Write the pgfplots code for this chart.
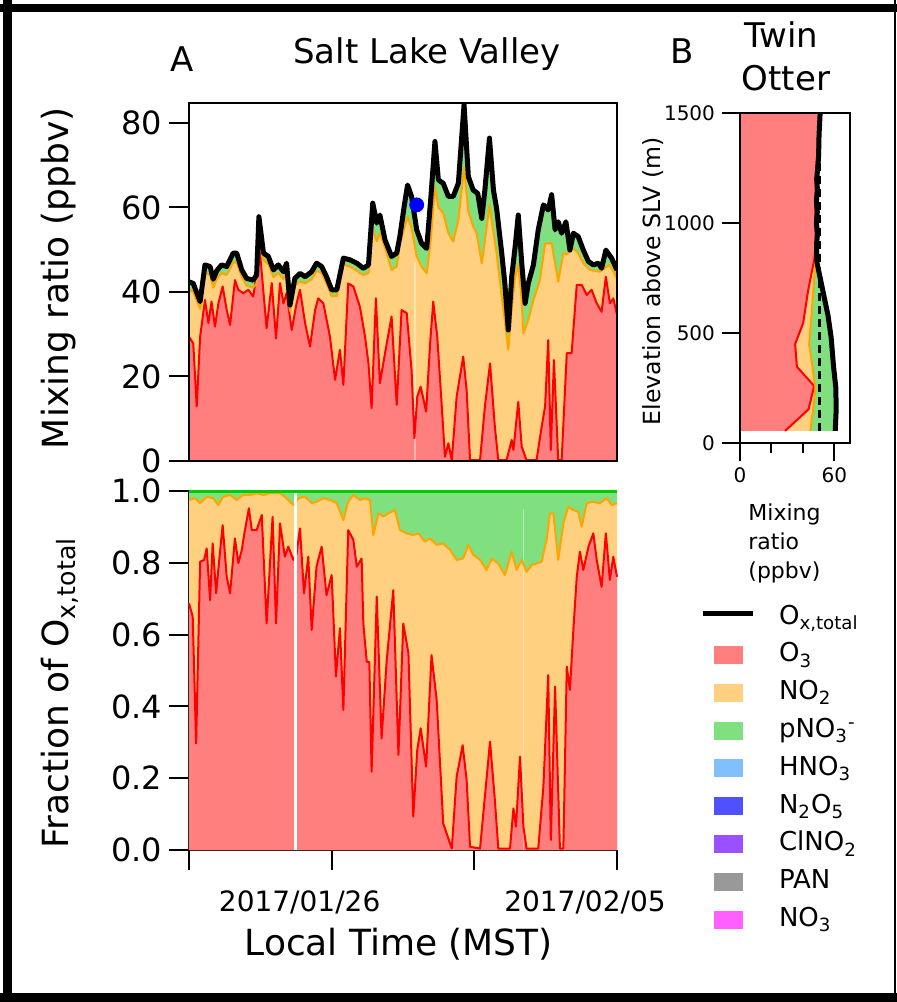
\documentclass[border=0pt]{standalone}
\usepackage{pgfplots}
\usepackage{pgfplotstable}
\pgfplotsset{compat=1.18}
\usepackage{fontspec}
\setmainfont{DejaVu Sans}
\definecolor{o3fill}{HTML}{FF7F7F}
\definecolor{o3line}{HTML}{FF0000}
\definecolor{no2fill}{HTML}{FFD080}
\definecolor{no2line}{HTML}{FFA500}
\definecolor{pno3fill}{HTML}{80E080}
\definecolor{pno3line}{HTML}{00CC00}
\definecolor{hno3}{HTML}{80C0FF}
\definecolor{n2o5}{HTML}{5050FF}
\definecolor{clno2}{HTML}{9A50FF}
\definecolor{pan}{HTML}{999999}
\definecolor{no3}{HTML}{FF60FF}
\newcommand\fs[1]{\fontsize{#1}{#1}\selectfont}
\newcommand\patch[1]{\addlegendimage{legend image code/.code={\fill[#1] (6pt,-4.25pt) rectangle (20pt,4.25pt);\path[draw=none] (0pt,0pt) -- (25pt,0pt);}}}

% ---------- Panel A top: mixing ratios (days since start, ppbv)
\pgfplotstableread{
d v
0 42.4
0.15 42
0.39 37.7
0.56 46.4
0.74 46
0.85 43
0.97 45
1.14 46.4
1.32 46
1.55 49.2
1.67 49.2
1.85 45.2
2.02 43.2
2.25 42.8
2.37 44
2.45 57.8
2.61 49.2
2.78 48.4
2.96 45.2
3.13 46.4
3.31 44.8
3.42 46.8
3.54 36.9
3.71 43.2
3.89 44.4
4.07 43.6
4.30 44.8
4.47 46.8
4.65 46
4.82 43.6
5.00 40.5
5.18 40.5
5.41 48
5.64 47.6
5.88 46.8
6.11 45.6
6.29 46.4
6.44 61
6.58 56.3
6.69 58.2
6.87 52.3
7.10 48.4
7.28 49.2
7.39 53.1
7.54 60.2
7.66 65.3
7.80 62.6
7.98 54.7
8.15 51.5
8.33 50.3
8.47 61.8
8.62 75.6
8.74 66.5
8.91 65.7
9.09 62.6
9.26 62.6
9.44 65.7
9.64 84.3
9.79 67.3
9.96 64.1
10.12 63.3
10.26 57.4
10.37 64.1
10.53 76.4
10.67 64.1
10.78 59.8
10.96 49.2
11.07 42
11.19 31
11.31 43.6
11.43 50.7
11.54 58.2
11.66 47
11.78 37.3
11.89 42
12.07 46.4
12.24 54.7
12.42 60.6
12.59 59.4
12.71 63
12.83 54.7
12.94 56.6
13.06 53.9
13.21 56.6
13.35 49.9
13.47 53.9
13.64 53.1
13.82 49.9
14.00 47.2
14.17 46.4
14.35 46.8
14.46 45.6
14.61 49.9
14.81 48
15.00 45.2
}\Atot

\pgfplotstableread{
d v
0 40.5
0.15 40
0.39 36
0.56 44.5
0.74 44
0.85 41
0.97 43
1.14 44.5
1.32 44
1.55 47
1.67 47
1.85 43.5
2.02 41.5
2.25 41
2.37 42
2.45 56
2.61 47.5
2.78 46.5
2.96 43.5
3.13 44.5
3.31 43
3.42 45
3.54 35.5
3.71 41.5
3.89 42.5
4.07 42
4.30 43
4.47 45
4.65 44.5
4.82 42
5.00 39
5.18 39
5.41 46.5
5.64 46
5.88 45
6.11 44
6.29 44.5
6.44 54.7
6.58 52
6.69 53.9
6.87 50.5
7.10 45.2
7.28 46
7.39 51.5
7.54 55
7.66 57.8
7.80 55
7.98 48.4
8.15 46
8.33 44.4
8.47 52
8.62 64.9
8.74 60
8.91 58.6
9.09 53.9
9.26 51.9
9.44 57
9.64 69.3
9.79 59
9.96 55.5
10.08 53.9
10.26 46.8
10.37 52
10.53 60.6
10.67 54
10.78 49.2
10.96 38.9
11.07 33
11.19 26.3
11.31 36
11.43 43.6
11.54 46.4
11.66 38
11.72 30.2
11.89 33.4
12.07 38.1
12.30 42.8
12.48 51.5
12.71 51.5
12.94 42.4
13.12 49.2
13.24 48.8
13.41 50.7
13.64 49.2
13.82 46.8
14.05 45.2
14.40 44.8
14.75 46.4
15.00 43.2
}\Ano

\pgfplotstableread{
d v
0 29.4
0.15 27.8
0.27 12.9
0.39 29.4
0.56 38.1
0.68 32.6
0.79 37.7
0.91 31.8
1.03 37.3
1.18 41.3
1.32 35.8
1.44 32.2
1.61 42.8
1.73 40.5
1.90 39.7
2.08 40.5
2.25 38.9
2.49 49.2
2.72 31.4
2.90 42.1
3.05 29
3.19 42.1
3.31 37.3
3.42 39.7
3.60 31
3.77 37.3
3.89 40.5
4.07 32.6
4.24 27.1
4.42 35.7
4.53 38.5
4.71 37.3
4.94 29.4
5.12 19.2
5.29 26.3
5.41 18
5.58 42
5.76 41.3
5.99 36.5
6.17 29.4
6.29 23.1
6.40 12.5
6.55 38.5
6.69 18.4
6.87 25.5
7.10 34.2
7.28 13.3
7.45 35.7
7.63 35
7.80 21.5
7.90 5.4
8.00 15.2
8.12 17.6
8.31 11.7
8.45 27.8
8.56 37.7
8.70 29.4
8.86 12.9
8.97 1
9.09 4.2
9.21 0.2
9.38 15.2
9.61 24.7
9.73 16.8
9.85 0.2
10.20 0.2
10.37 12.9
10.55 23.1
10.72 8.1
10.84 0.2
11.13 0.2
11.31 5
11.37 2.6
11.54 14
11.66 3.4
11.83 0.2
12.18 0.2
12.36 8.1
12.48 12.9
12.59 28.6
12.68 2.6
12.79 23.9
12.94 0.2
13.06 0.2
13.24 25.5
13.41 25.5
13.59 41.7
13.76 41.7
13.94 39.3
14.11 40.5
14.29 37.3
14.46 35.3
14.61 43.6
14.75 37.3
14.87 38.5
15.00 34.6
}\Aox

% ---------- Panel A bottom: fractions of Ox,total
\pgfplotstableread{
d f
0 0.975
0.21 0.98
0.39 0.966
0.62 0.984
0.85 0.98
1.03 0.961
1.20 0.984
1.44 0.989
1.67 0.975
1.90 0.989
2.14 0.989
2.37 0.994
2.61 0.989
2.84 0.994
3.07 0.994
3.19 0.994
3.42 0.98
3.66 0.961
3.83 0.98
4.07 0.984
4.30 0.966
4.47 0.97
4.71 0.98
4.94 0.975
5.18 0.966
5.41 0.919
5.58 0.97
5.76 0.989
5.99 0.975
6.17 0.98
6.34 0.975
6.46 0.877
6.64 0.938
6.81 0.929
6.99 0.938
7.22 0.947
7.39 0.891
7.63 0.882
7.86 0.877
8.04 0.882
8.27 0.859
8.45 0.868
8.68 0.85
8.91 0.854
9.15 0.836
9.38 0.808
9.61 0.812
9.79 0.85
9.96 0.822
10.20 0.808
10.43 0.78
10.61 0.812
10.84 0.798
11.07 0.766
11.31 0.831
11.48 0.78
11.66 0.808
11.83 0.775
12.01 0.794
12.18 0.798
12.36 0.803
12.54 0.868
12.65 0.938
12.77 0.938
12.94 0.808
13.12 0.91
13.29 0.956
13.47 0.947
13.64 0.942
13.76 0.9
13.94 0.966
14.17 0.97
14.40 0.966
14.64 0.98
14.81 0.961
15.00 0.966
}\BfrN

\pgfplotstableread{
d f
0 0.687
0.13 0.65
0.25 0.297
0.39 0.803
0.53 0.808
0.62 0.84
0.74 0.696
0.83 0.854
0.95 0.715
1.06 0.808
1.18 0.905
1.32 0.762
1.44 0.715
1.61 0.868
1.73 0.799
1.85 0.836
1.96 0.891
2.10 0.952
2.20 0.891
2.37 0.891
2.55 0.933
2.72 0.631
2.93 0.928
3.05 0.631
3.19 0.91
3.36 0.817
3.48 0.845
3.66 0.808
3.77 0.826
3.89 0.896
4.03 0.715
4.18 0.817
4.30 0.613
4.47 0.79
4.65 0.845
4.82 0.71
5.00 0.766
5.15 0.483
5.29 0.618
5.41 0.39
5.58 0.891
5.76 0.864
5.88 0.789
6.05 0.812
6.11 0.631
6.23 0.524
6.32 0.524
6.40 0.218
6.58 0.706
6.75 0.311
6.93 0.529
7.16 0.724
7.34 0.265
7.51 0.631
7.69 0.548
7.86 0.093
8.00 0.279
8.12 0.339
8.31 0.232
8.50 0.543
8.68 0.418
8.91 0.074
9.03 0.046
9.21 0.004
9.38 0.204
9.59 0.292
9.73 0.195
9.85 0.009
10.20 0.004
10.55 0.302
10.72 0.139
10.84 0.004
11.25 0.004
11.37 0.116
11.46 0.065
11.60 0.26
11.72 0.065
11.83 0.004
12.24 0.004
12.42 0.176
12.59 0.487
12.68 0.028
12.83 0.455
13.00 0.004
13.12 0.004
13.24 0.511
13.35 0.446
13.47 0.613
13.59 0.761
13.70 0.831
13.82 0.78
14.00 0.845
14.17 0.882
14.29 0.808
14.46 0.733
14.61 0.882
14.75 0.752
14.87 0.817
15.00 0.761
}\BfrO

\begin{document}
\begin{tikzpicture}
\useasboundingbox (0,0) rectangle (448.5pt,-501pt);

% ================= Panel A, top
\begin{axis}[
  at={(94.5pt,-230.5pt)}, anchor=south west,
  scale only axis, width=214pt, height=179pt,
  xmin=0, xmax=15, ymin=0, ymax=84.7,
  xtick=\empty, ytick={0,20,40,60,80},
  ytick pos=left, tick align=outside,
  major tick length=10pt,
  axis line style={line width=1pt},
  every tick/.style={black, line width=1pt},
  /pgf/number format/assume math mode=true,
  yticklabel style={font=\fs{16}},
  ylabel={Mixing ratio (ppbv)},
  every axis y label/.style={at={(axis description cs:-0.2827,0.511)}, rotate=90, anchor=base, font=\fs{18}},
  axis on top,
]
\addplot[fill=pno3fill, draw=none] table[x=d,y=v] {\Atot} \closedcycle;
\addplot[fill=no2fill, draw=none] table[x=d,y=v] {\Ano} \closedcycle;
\addplot[fill=o3fill, draw=none] table[x=d,y=v] {\Aox} \closedcycle;
\addplot[white, opacity=0.4, line width=0.6pt] coordinates {(7.92,0) (7.92,47)};
\addplot[o3line, line width=1pt, line join=round] table[x=d,y=v] {\Aox};
\addplot[no2line, line width=1pt, line join=round] table[x=d,y=v] {\Ano};
\addplot[black, line width=2.5pt, line join=round] table[x=d,y=v] {\Atot};
\addplot[only marks, mark=*, mark size=3.5pt, color=blue] coordinates {(7.98,60.6)};
\end{axis}

% ================= Panel A, bottom
\begin{axis}[
  at={(94.5pt,-425pt)}, anchor=south west,
  scale only axis, width=214pt, height=179.5pt,
  xmin=0, xmax=15, ymin=0, ymax=1,
  axis lines=left,
  axis line style={-, line width=1pt},
  every tick/.style={black, line width=1pt},
  tick align=outside,
  major tick length=10pt,
  xtick={0,5,10,15}, xticklabels={,2017/01/26,,2017/02/05},
  ytick={0,0.2,0.4,0.6,0.8,1.0},
  /pgf/number format/assume math mode=true,
  yticklabel style={font=\fs{16}, /pgf/number format/fixed, /pgf/number format/fixed zerofill, /pgf/number format/precision=1},
  xticklabel style={font=\fs{14}, xshift=-16pt, yshift=-7pt},
  xlabel={Local Time (MST)},
  every axis x label/.style={at={(axis description cs:0.49,0)}, yshift=-52.5pt, anchor=base, font=\fs{18}},
  ylabel={Fraction of O\textsubscript{x,total}},
  every axis y label/.style={at={(axis description cs:-0.2827,0.437)}, rotate=90, anchor=base, font=\fs{18}},
  clip=false,
  legend style={at={(axis description cs:1.194,0.685)}, anchor=north west, draw=none, fill=none,
    inner sep=0pt, outer sep=0pt, font=\fs{13}, row sep=5.9pt, column sep=12pt,
    nodes={inner sep=0pt, text height=10pt, text depth=3pt}},
  legend cell align=left,
]
\addplot[fill=pno3fill, draw=none, forget plot] coordinates {(0,1) (15,1)} \closedcycle;
\addplot[fill=no2fill, draw=none, forget plot] table[x=d,y=f] {\BfrN} \closedcycle;
\addplot[fill=o3fill, draw=none, forget plot] table[x=d,y=f] {\BfrO} \closedcycle;
\addplot[white, opacity=0.4, line width=0.6pt, forget plot] coordinates {(11.72,0) (11.72,0.95)};
\addplot[o3line, line width=1pt, line join=round, forget plot] table[x=d,y=f] {\BfrO};
\addplot[no2line, line width=1pt, line join=round, forget plot] table[x=d,y=f] {\BfrN};
\addplot[white, line width=1.5pt, forget plot] coordinates {(3.715,0) (3.715,1)};
\addplot[pno3line, line width=1.5pt, forget plot] coordinates {(0,1) (15,1)};
\addlegendimage{legend image code/.code={\draw[black,line width=2.5pt] (0pt,2pt) -- (25pt,2pt);}}
\addlegendentry{O\textsubscript{x,total}}
\patch{o3fill}\addlegendentry{O\textsubscript{3}}
\patch{no2fill}\addlegendentry{NO\textsubscript{2}}
\patch{pno3fill}\addlegendentry{pNO\textsubscript{3}\textsuperscript{-}}
\patch{hno3}\addlegendentry{HNO\textsubscript{3}}
\patch{n2o5}\addlegendentry{N\textsubscript{2}O\textsubscript{5}}
\patch{clno2}\addlegendentry{ClNO\textsubscript{2}}
\patch{pan}\addlegendentry{PAN}
\patch{no3}\addlegendentry{NO\textsubscript{3}}
\end{axis}

% ================= Panel B: Twin Otter profile
\begin{axis}[
  at={(370pt,-221.5pt)}, anchor=south west,
  scale only axis, width=55pt, height=165pt,
  xmin=0, xmax=70, ymin=0, ymax=1500,
  xtick={0,60}, minor xtick={20,40}, ytick={0,500,1000,1500},
  tick pos=left, tick align=outside,
  major tick length=9pt, minor tick length=5pt,
  axis line style={line width=1pt},
  every tick/.style={black, line width=1pt},
  /pgf/number format/assume math mode=true,
  /pgf/number format/1000 sep={},
  tick label style={font=\fs{10}},
  ylabel={Elevation above SLV (m)},
  every axis y label/.style={at={(axis description cs:-0.727,0.49)}, rotate=90, anchor=base, font=\fs{11.8}},
  xlabel={Mixing\\ratio\\(ppbv)},
  every axis x label/.style={at={(axis description cs:0.073,-0.182)}, anchor=north west, align=left, inner sep=0pt, font=\fontsize{11}{14.5}\selectfont},
  axis on top,
]
\addplot[fill=pno3fill, draw=none] coordinates {(0,55) (60.6,55) (61.2,150) (61,250) (59.5,350) (58,480) (56,580) (52.5,700) (49,820) (48.7,900) (49.3,950) (48.6,1000) (49.2,1050) (48.6,1100) (49.3,1150) (48.8,1200) (49.6,1260) (50,1300) (50.3,1400) (51,1500) (0,1500)} -- cycle;
\addplot[fill=no2fill, draw=none] coordinates {(0,55) (44.7,55) (46.5,150) (48,250) (46,350) (44,450) (45.7,600) (47.5,780) (48.2,840) (48.2,900) (48,1000) (48,1100) (48.2,1200) (48.5,1250) (49,1300) (49.8,1400) (50.5,1500) (0,1500)} -- cycle;
\addplot[fill=o3fill, draw=none] coordinates {(0,55) (28.7,55) (43.6,153) (47.2,259) (36.2,347) (35.1,450) (40.2,545) (43.4,695) (47.2,832) (48.2,900) (48,1000) (48,1100) (48.2,1200) (48.5,1250) (49,1300) (49.8,1400) (50.5,1500) (0,1500)} -- cycle;
\addplot[o3line, line width=1pt] coordinates {(28.7,55) (43.6,153) (47.2,259) (36.2,347) (35.1,450) (40.2,545) (43.4,695) (47.2,832) (48.2,900) (48,1000) (48,1100) (48.2,1200) (48.5,1250) (49,1300) (49.8,1400) (50.5,1500)};
\addplot[no2line, line width=1pt] coordinates {(44.7,55) (46.5,150) (48,250) (46,350) (44,450) (45.7,600) (47.5,780) (48.2,840)};
\addplot[black, line width=1.2pt, dash pattern=on 4pt off 2.5pt] coordinates {(50.6,55) (50.6,1500)};
\addplot[black, line width=2.5pt, line join=round] coordinates {(60.6,55) (61.2,150) (61,250) (59.5,350) (58,480) (56,580) (52.5,700) (49,820) (48.7,900) (49.3,950) (48.6,1000) (49.2,1050) (48.6,1100) (49.3,1150) (48.8,1200) (49.6,1260) (50,1300) (50.3,1400) (51,1500)};
\end{axis}

% titles
\node[anchor=base, font=\fs{17}] at (91pt,-35.5pt) {A};
\node[anchor=base, font=\fs{17}] at (213.5pt,-31.5pt) {Salt Lake Valley};
\node[anchor=base, font=\fs{17}] at (341pt,-31.5pt) {B};
\node[anchor=base, font=\fs{17}] at (390.5pt,-23.5pt) {Twin};
\node[anchor=base, font=\fs{17}] at (393pt,-45pt) {Otter};

% outer frame
\draw[line width=4.5pt] (3.75pt,0pt) -- (3.75pt,-501pt);
\draw[line width=4pt] (0pt,-4pt) -- (448.5pt,-4pt);
\draw[line width=4.5pt] (0pt,-498.75pt) -- (448.5pt,-498.75pt);
\draw[line width=1pt] (447.5pt,0pt) -- (447.5pt,-501pt);
\end{tikzpicture}
\end{document}
